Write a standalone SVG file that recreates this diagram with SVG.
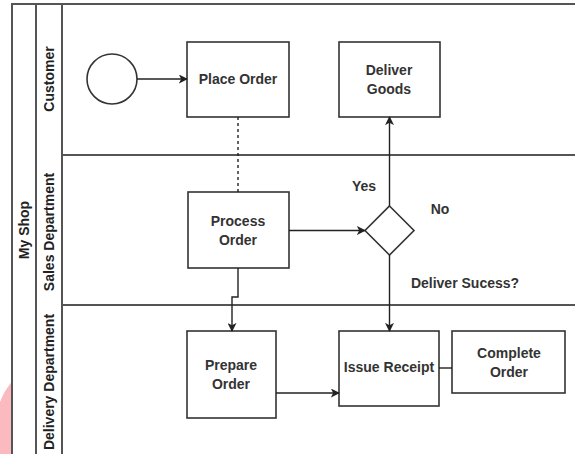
<svg xmlns="http://www.w3.org/2000/svg" width="575" height="454" viewBox="0 0 575 454">
<style>
.node{fill:#fff;stroke:#333;stroke-width:1.6}
.lbl{font-family:"Liberation Sans",Arial,sans-serif;font-size:14px;fill:#333;text-anchor:middle}
.lane{font-family:"Liberation Sans",Arial,sans-serif;font-size:14px;font-weight:bold;fill:#222;text-anchor:middle}
.edge{fill:none;stroke:#222;stroke-width:1.4}
.sep{stroke:#555;stroke-width:2;fill:none}
</style>
<defs>
<marker id="arr" viewBox="0 0 10 10" refX="9" refY="5" markerWidth="9" markerHeight="9" markerUnits="userSpaceOnUse" orient="auto">
<path d="M0,0 L10,5 L0,10 L2.5,5 Z" fill="#222"/>
</marker>
</defs>
<rect width="575" height="454" fill="#fff"/>
<path d="M0,402 C4,392 8,386 12,382 L12,454 L0,454 Z" fill="#fbbac0"/>
<g id="pool">
<path d="M12,460 L12,4 L575,4" class="sep" stroke="#222"/>
<line x1="36" y1="4" x2="36" y2="460" class="sep"/>
<line x1="62" y1="4" x2="62" y2="460" class="sep"/>
<line x1="62" y1="155" x2="575" y2="155" class="sep"/>
<line x1="62" y1="305" x2="575" y2="305" class="sep"/>
<text class="lane" transform="translate(29,230) rotate(-90)">My Shop</text>
<text class="lane" transform="translate(54,79) rotate(-90)">Customer</text>
<text class="lane" transform="translate(54,232) rotate(-90)">Sales Department</text>
<text class="lane" transform="translate(54,382) rotate(-90)">Delivery Department</text>
</g>
<g id="start"><circle cx="112" cy="79" r="25" class="node"/></g>
<g id="place-order"><rect x="187" y="42" width="102" height="75" class="node"/><text class="lbl" x="238" y="84" font-weight="bold">Place Order</text></g>
<g id="deliver-goods"><rect x="339" y="42" width="101" height="75" class="node"/><text class="lbl" x="389" y="75" font-weight="bold">Deliver</text><text class="lbl" x="389" y="94" font-weight="bold">Goods</text></g>
<g id="process-order"><rect x="188" y="192" width="101" height="76" class="node"/><text class="lbl" x="238" y="226" font-weight="bold">Process</text><text class="lbl" x="238" y="245" font-weight="bold">Order</text></g>
<g id="decision"><path d="M389.5,206 L414,230.5 L389.5,255 L365,230.5 Z" class="node"/></g>
<g id="prepare-order"><rect x="187" y="331" width="89" height="87" class="node"/><text class="lbl" x="231" y="370" font-weight="bold">Prepare</text><text class="lbl" x="231" y="389" font-weight="bold">Order</text></g>
<g id="issue-receipt"><rect x="339" y="331" width="100" height="75" class="node"/><text class="lbl" x="389" y="372" font-weight="bold">Issue Receipt</text></g>
<g id="complete-order"><rect x="452" y="331" width="113" height="62" class="node"/><text class="lbl" x="509" y="358" font-weight="bold">Complete</text><text class="lbl" x="509" y="377" font-weight="bold">Order</text></g>
<g id="labels">
<text class="lbl" x="364" y="191" font-weight="bold">Yes</text>
<text class="lbl" x="440" y="214" font-weight="bold">No</text>
<text class="lbl" x="465" y="288" font-weight="bold">Deliver Sucess?</text>
</g>
<g id="connectors">
<line x1="137" y1="79" x2="187" y2="79" class="edge" marker-end="url(#arr)"/>
<line x1="238" y1="117" x2="238" y2="192" class="edge" stroke-dasharray="3,3"/>
<line x1="289" y1="230.5" x2="365" y2="230.5" class="edge" marker-end="url(#arr)"/>
<line x1="389.5" y1="206" x2="389.5" y2="117" class="edge" marker-end="url(#arr)"/>
<line x1="389.5" y1="255" x2="389.5" y2="331" class="edge" marker-end="url(#arr)"/>
<path d="M238,268 L238,297 L232,297 L232,331" class="edge" marker-end="url(#arr)"/>
<line x1="276" y1="393" x2="339" y2="393" class="edge" marker-end="url(#arr)"/>
<line x1="439" y1="368" x2="452" y2="368" class="edge"/>
</g>
</svg>
